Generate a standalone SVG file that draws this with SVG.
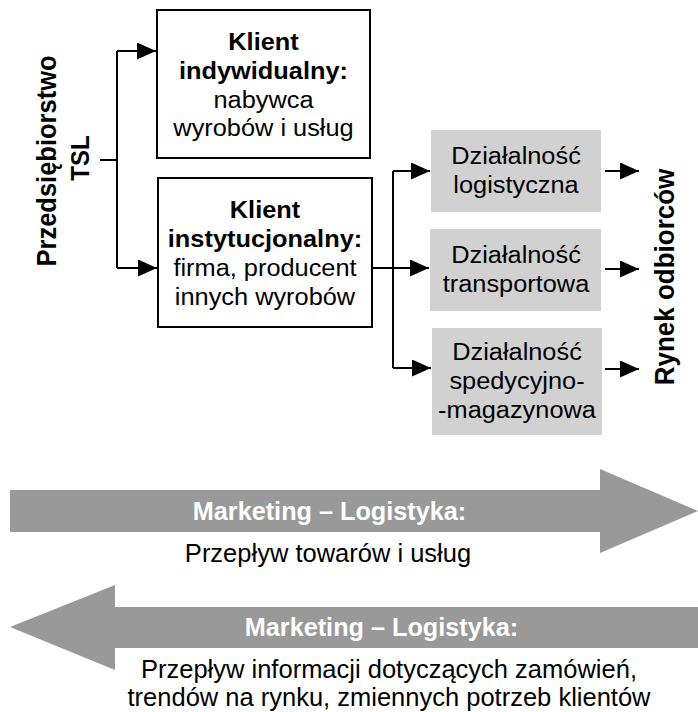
<svg xmlns="http://www.w3.org/2000/svg" width="698" height="712" viewBox="0 0 698 712">
<defs>
<style>
.box{fill:#fff;stroke:#000;stroke-width:2}
.gbox{fill:#d1d1d1;stroke:none}
.t{font-family:"Liberation Sans",Arial,sans-serif;font-size:24.5px;fill:#000;text-anchor:middle}
.b{font-weight:bold}
.bt{font-family:"Liberation Sans",Arial,sans-serif;font-size:25px;fill:#000;text-anchor:middle}
.mk{font-family:"Liberation Sans",Arial,sans-serif;font-size:25px;font-weight:bold;fill:#fff;text-anchor:middle}
.vt{font-family:"Liberation Sans",Arial,sans-serif;font-weight:bold;fill:#000;text-anchor:middle}
.ln{fill:none;stroke:#000;stroke-width:2}
.big{fill:#999999}
</style>
<marker id="ah" markerUnits="userSpaceOnUse" markerWidth="20" markerHeight="18" refX="19" refY="8.5" orient="auto">
<path d="M0,0 L19,8.5 L0,17 Z" fill="#000"/>
</marker>
</defs>

<g id="przedsiebiorstwo">
<text class="vt" font-size="25" transform="translate(56,161) rotate(-90) scale(1.02,1.08)">Przedsiębiorstwo</text>
<text class="vt" font-size="24" transform="translate(89,158) rotate(-90) scale(1,1.1)">TSL</text>
</g>

<g id="klient-indywidualny">
<rect class="box" x="157" y="10" width="213" height="148"/>
<text class="t b" transform="translate(263.5,50) scale(1.035,1)">Klient</text>
<text class="t b" transform="translate(263.5,79) scale(1.035,1)">indywidualny:</text>
<text class="t" transform="translate(263.5,108) scale(1.035,1)">nabywca</text>
<text class="t" transform="translate(263.5,136) scale(1.035,1)">wyrobów i usług</text>
</g>

<g id="klient-instytucjonalny">
<rect class="box" x="158" y="178" width="214" height="149"/>
<text class="t b" transform="translate(265,218) scale(1.035,1)">Klient</text>
<text class="t b" transform="translate(265,247) scale(1.035,1)">instytucjonalny:</text>
<text class="t" transform="translate(265,276) scale(1.035,1)">firma, producent</text>
<text class="t" transform="translate(265,305) scale(1.035,1)">innych wyrobów</text>
</g>

<g id="dzialalnosc-logistyczna">
<rect class="gbox" x="431" y="130" width="170" height="82"/>
<text class="t" transform="translate(516,164) scale(1.035,1)">Działalność</text>
<text class="t" transform="translate(516,193) scale(1.035,1)">logistyczna</text>
</g>

<g id="dzialalnosc-transportowa">
<rect class="gbox" x="430" y="229" width="171" height="82"/>
<text class="t" transform="translate(516,263) scale(1.035,1)">Działalność</text>
<text class="t" transform="translate(516,292) scale(1.035,1)">transportowa</text>
</g>

<g id="dzialalnosc-spedycyjno-magazynowa">
<rect class="gbox" x="432" y="328" width="170" height="107"/>
<text class="t" transform="translate(517,360) scale(1.035,1)">Działalność</text>
<text class="t" transform="translate(517,389) scale(1.035,1)">spedycyjno-</text>
<text class="t" transform="translate(517,418) scale(1.035,1)">-magazynowa</text>
</g>

<g id="rynek-odbiorcow">
<text class="vt" font-size="26" transform="translate(674,277) rotate(-90) scale(1,1.08)">Rynek odbiorców</text>
</g>

<g id="connectors">
<path class="ln" d="M100,160 H117 M117,51 V268 M372,268 H393 M393,171 V368"/>
<path class="ln" d="M117,51 H156" marker-end="url(#ah)"/>
<path class="ln" d="M117,268 H157" marker-end="url(#ah)"/>
<path class="ln" d="M393,171 H430" marker-end="url(#ah)"/>
<path class="ln" d="M393,268 H429" marker-end="url(#ah)"/>
<path class="ln" d="M393,368 H431" marker-end="url(#ah)"/>
<path class="ln" d="M605,171 H639" marker-end="url(#ah)"/>
<path class="ln" d="M605,269 H639" marker-end="url(#ah)"/>
<path class="ln" d="M605,369 H639" marker-end="url(#ah)"/>
</g>

<g id="flow-goods">
<polygon class="big" points="10,490 600,490 600,469 698,511 600,553 600,532 10,532"/>
<text class="mk" transform="translate(329.5,520) scale(1.01,1)">Marketing – Logistyka:</text>
<text class="bt" transform="translate(328,562) scale(1.02,1)">Przepływ towarów i usług</text>
</g>

<g id="flow-information">
<polygon class="big" points="10,627 115,585 115,607 698,607 698,648 115,648 115,670"/>
<text class="mk" transform="translate(381.5,636) scale(1.01,1)">Marketing – Logistyka:</text>
<text class="bt" transform="translate(389,678) scale(1.02,1)">Przepływ informacji dotyczących zamówień,</text>
<text class="bt" transform="translate(389,706) scale(1.02,1)">trendów na rynku, zmiennych potrzeb klientów</text>
</g>
</svg>
